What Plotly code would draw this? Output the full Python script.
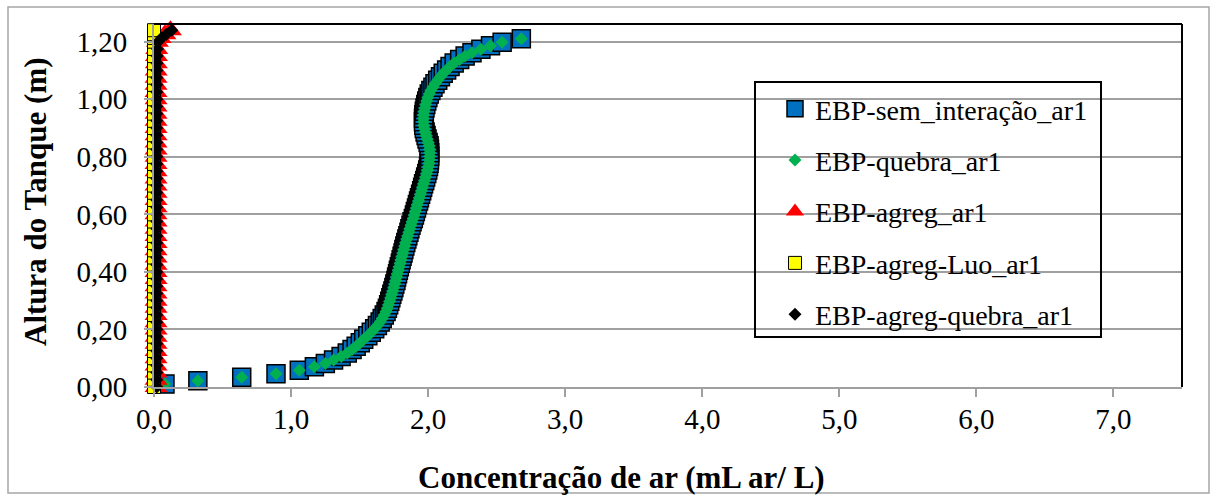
import plotly.graph_objects as go

# ---------------- data ----------------
altura_a = [0.010, 0.022, 0.034, 0.046, 0.058, 0.070, 0.082, 0.094, 0.106, 0.118,
            0.130, 0.142, 0.154, 0.166, 0.178, 0.190, 0.202, 0.214, 0.226, 0.238,
            0.250, 0.262, 0.274, 0.286, 0.298, 0.310, 0.322, 0.334, 0.346, 0.358,
            0.370, 0.382, 0.394, 0.406, 0.418, 0.430, 0.442, 0.454, 0.466, 0.478,
            0.490, 0.502, 0.514, 0.526, 0.538, 0.550, 0.562, 0.574, 0.586, 0.598,
            0.610, 0.622, 0.634, 0.646, 0.658, 0.670, 0.682, 0.694, 0.706, 0.718,
            0.730, 0.742, 0.754, 0.766, 0.778, 0.790, 0.802, 0.814, 0.826, 0.838,
            0.850, 0.862, 0.874, 0.886, 0.898, 0.910, 0.922, 0.934, 0.946, 0.958,
            0.970, 0.982, 0.994, 1.006, 1.018, 1.030, 1.042, 1.054, 1.066, 1.078,
            1.090, 1.102, 1.114, 1.126, 1.138, 1.150, 1.162, 1.174, 1.186, 1.198,
            1.210]

conc_sem_interacao = [0.08, 0.32, 0.64, 0.89, 1.06, 1.17, 1.25, 1.31, 1.365, 1.41,
                      1.445, 1.475, 1.505, 1.53, 1.56, 1.585, 1.61, 1.63, 1.65, 1.665,
                      1.68, 1.693, 1.703, 1.712, 1.72, 1.728, 1.735, 1.743, 1.75, 1.757,
                      1.765, 1.77, 1.777, 1.783, 1.79, 1.797, 1.803, 1.81, 1.817, 1.823,
                      1.83, 1.837, 1.845, 1.852, 1.86, 1.867, 1.875, 1.883, 1.892, 1.90,
                      1.907, 1.915, 1.922, 1.93, 1.937, 1.945, 1.953, 1.96, 1.967, 1.975,
                      1.982, 1.99, 1.997, 2.003, 2.007, 2.01, 2.012, 2.012, 2.01, 2.007,
                      2.00, 1.992, 1.985, 1.978, 1.972, 1.968, 1.966, 1.966, 1.968, 1.972,
                      1.977, 1.983, 1.99, 1.998, 2.008, 2.02, 2.035, 2.05, 2.07, 2.09,
                      2.11, 2.135, 2.16, 2.19, 2.23, 2.27, 2.32, 2.385, 2.455, 2.54,
                      2.68]

conc_quebra = [0.08, 0.32, 0.64, 0.89, 1.06, 1.17, 1.25, 1.31, 1.365, 1.41,
               1.445, 1.475, 1.505, 1.53, 1.56, 1.585, 1.61, 1.63, 1.65, 1.665,
               1.68, 1.693, 1.703, 1.712, 1.72, 1.728, 1.735, 1.743, 1.75, 1.757,
               1.765, 1.77, 1.777, 1.783, 1.79, 1.797, 1.803, 1.81, 1.817, 1.823,
               1.83, 1.837, 1.845, 1.852, 1.86, 1.867, 1.875, 1.883, 1.892, 1.90,
               1.907, 1.915, 1.922, 1.93, 1.937, 1.945, 1.953, 1.96, 1.967, 1.975,
               1.982, 1.99, 1.997, 2.003, 2.007, 2.01, 2.012, 2.012, 2.01, 2.007,
               2.00, 1.992, 1.985, 1.978, 1.972, 1.968, 1.966, 1.966, 1.968, 1.972,
               1.977, 1.983, 1.99, 1.998, 2.008, 2.02, 2.035, 2.05, 2.07, 2.09,
               2.11, 2.135, 2.16, 2.19, 2.23, 2.27, 2.32, 2.385, 2.455, 2.54,
               2.68]

altura_b = [0.000, 0.025, 0.050, 0.075, 0.100, 0.125, 0.150, 0.175, 0.200, 0.225,
            0.250, 0.275, 0.300, 0.325, 0.350, 0.375, 0.400, 0.425, 0.450, 0.475,
            0.500, 0.525, 0.550, 0.575, 0.600, 0.625, 0.650, 0.675, 0.700, 0.725,
            0.750, 0.775, 0.800, 0.825, 0.850, 0.875, 0.900, 0.925, 0.950, 0.975,
            1.000, 1.025, 1.050, 1.075, 1.100, 1.125, 1.150, 1.175, 1.200, 1.213,
            1.226, 1.240]

conc_agreg = [0.015, 0.015, 0.015, 0.015, 0.015, 0.015, 0.015, 0.015, 0.015, 0.015,
              0.015, 0.015, 0.015, 0.015, 0.015, 0.015, 0.015, 0.015, 0.015, 0.015,
              0.015, 0.015, 0.015, 0.015, 0.015, 0.015, 0.015, 0.015, 0.015, 0.015,
              0.015, 0.015, 0.015, 0.015, 0.015, 0.015, 0.015, 0.015, 0.015, 0.015,
              0.015, 0.015, 0.015, 0.015, 0.016, 0.017, 0.018, 0.020, 0.025, 0.045,
              0.080, 0.120]

conc_agreg_luo = [0.000, 0.000, 0.000, 0.000, 0.000, 0.000, 0.000, 0.000, 0.000, 0.000,
                  0.000, 0.000, 0.000, 0.000, 0.000, 0.000, 0.000, 0.000, 0.000, 0.000,
                  0.000, 0.000, 0.000, 0.000, 0.000, 0.000, 0.000, 0.000, 0.000, 0.000,
                  0.000, 0.000, 0.000, 0.000, 0.000, 0.000, 0.000, 0.000, 0.000, 0.000,
                  0.000, 0.000, 0.000, 0.000, 0.000, 0.000, 0.000, 0.000, 0.000, 0.000,
                  0.000, 0.000]

conc_agreg_quebra = [0.020, 0.020, 0.020, 0.020, 0.020, 0.020, 0.020, 0.020, 0.020, 0.020,
                     0.020, 0.020, 0.020, 0.020, 0.020, 0.020, 0.020, 0.020, 0.020, 0.020,
                     0.020, 0.020, 0.020, 0.020, 0.020, 0.020, 0.020, 0.020, 0.020, 0.020,
                     0.020, 0.020, 0.020, 0.020, 0.020, 0.020, 0.020, 0.020, 0.020, 0.020,
                     0.020, 0.020, 0.020, 0.020, 0.021, 0.022, 0.023, 0.025, 0.030, 0.055,
                     0.090, 0.130]

series_names = ["EBP-sem_interação_ar1", "EBP-quebra_ar1", "EBP-agreg_ar1",
                "EBP-agreg-Luo_ar1", "EBP-agreg-quebra_ar1"]

x_tickvals = [0, 1, 2, 3, 4, 5, 6, 7]
x_ticktext = ["0,0", "1,0", "2,0", "3,0", "4,0", "5,0", "6,0", "7,0"]
y_tickvals = [0.0, 0.2, 0.4, 0.6, 0.8, 1.0, 1.2]
y_ticktext = ["0,00", "0,20", "0,40", "0,60", "0,80", "1,00", "1,20"]

x_title = "Concentração de ar (mL ar/ L)"
y_title = "Altura do Tanque (m)"

# ---------------- layout geometry ----------------
W, H = 1216, 495
ML, MR, MT, MB = 154, 34, 24, 108
PW = W - ML - MR
PH = H - MT - MB


def px_x(px):
    return (px - ML) / PW


def px_y(py):
    return (H - MB - py) / PH


FONT = "Times New Roman, Liberation Serif, DejaVu Serif, Noto Serif, Times, serif"

fig = go.Figure()

fig.add_trace(go.Scatter(
    x=conc_sem_interacao, y=altura_a, mode="markers", name=series_names[0],
    legendgroup="g1", cliponaxis=False,
    marker=dict(symbol="square", size=18, color="#0070C0",
                line=dict(color="#000000", width=1.5))))
fig.add_trace(go.Scatter(
    x=conc_quebra, y=altura_a, mode="markers", name=series_names[1],
    legendgroup="g2", cliponaxis=False,
    marker=dict(symbol="diamond", size=10, color="#00B050",
                line=dict(width=0))))
fig.add_trace(go.Scatter(
    x=conc_agreg, y=altura_b, mode="markers", name=series_names[2],
    legendgroup="g3", cliponaxis=False,
    marker=dict(symbol="triangle-up", size=20, color="#FF0000",
                line=dict(width=0))))
fig.add_trace(go.Scatter(
    x=conc_agreg_luo, y=altura_b, mode="markers", name=series_names[3],
    legendgroup="g4", cliponaxis=False,
    marker=dict(symbol="square", size=13, color="#FFFF00",
                line=dict(color="#000000", width=1))))
fig.add_trace(go.Scatter(
    x=conc_agreg_quebra, y=altura_b, mode="markers", name=series_names[4],
    legendgroup="g5", cliponaxis=False,
    marker=dict(symbol="diamond", size=10, color="#000000",
                line=dict(width=0))))

GRID = "#A0A0A0"

fig.update_layout(
    width=W, height=H,
    margin=dict(l=ML, r=MR, t=MT, b=MB, pad=0),
    paper_bgcolor="white", plot_bgcolor="white",
    font=dict(family=FONT, size=28, color="black"),
    showlegend=True,
    legend=dict(
        x=px_x(775), y=px_y(84), xanchor="left", yanchor="top",
        bgcolor="rgba(0,0,0,0)", borderwidth=0,
        font=dict(family=FONT, size=28, color="black"),
        traceorder="grouped", tracegroupgap=12,
        itemclick=False, itemdoubleclick=False,
    ),
    xaxis=dict(
        range=[0, 7.5], tickvals=x_tickvals, ticktext=x_ticktext,
        showgrid=False, zeroline=False,
        showline=True, linecolor=GRID, linewidth=2,
        ticks="outside", ticklen=8, tickwidth=2, tickcolor=GRID,
        tickfont=dict(family=FONT, size=29, color="black"),
        ticklabelstandoff=-3,
    ),
    yaxis=dict(
        range=[0, 1.2615], tickvals=y_tickvals, ticktext=y_ticktext,
        showgrid=True, gridcolor=GRID, gridwidth=2, zeroline=False,
        showline=True, linecolor=GRID, linewidth=2,
        ticks="outside", ticklen=8, tickwidth=2, tickcolor=GRID,
        tickfont=dict(family=FONT, size=29, color="black"),
        ticklabelstandoff=11,
    ),
    annotations=[
        dict(text="<b>" + x_title + "</b>", xref="paper", yref="paper",
             x=px_x(621), y=px_y(477), xanchor="center", yanchor="middle",
             showarrow=False, font=dict(family=FONT, size=31, color="black")),
        dict(text="<b>" + y_title + "</b>", xref="paper", yref="paper",
             x=px_x(36), y=px_y(202), xanchor="center", yanchor="middle",
             textangle=-90, showarrow=False,
             font=dict(family=FONT, size=31, color="black")),
    ],
    shapes=[
        dict(type="line", xref="paper", yref="paper", x0=0, x1=1, y0=1, y1=1,
             line=dict(color="black", width=2), layer="above"),
        dict(type="line", xref="paper", yref="paper", x0=1, x1=1, y0=0, y1=1,
             line=dict(color="black", width=2), layer="above"),
        dict(type="rect", xref="paper", yref="paper",
             x0=px_x(755), x1=px_x(1101), y0=px_y(337), y1=px_y(82),
             line=dict(color="black", width=2), fillcolor="rgba(0,0,0,0)",
             layer="above"),
        dict(type="rect", xref="paper", yref="paper",
             x0=px_x(8), x1=px_x(1209), y0=px_y(493), y1=px_y(7),
             line=dict(color="#A6A6A6", width=1.5), fillcolor="rgba(0,0,0,0)",
             layer="below"),
    ],
)

fig.write_html("out.html")
